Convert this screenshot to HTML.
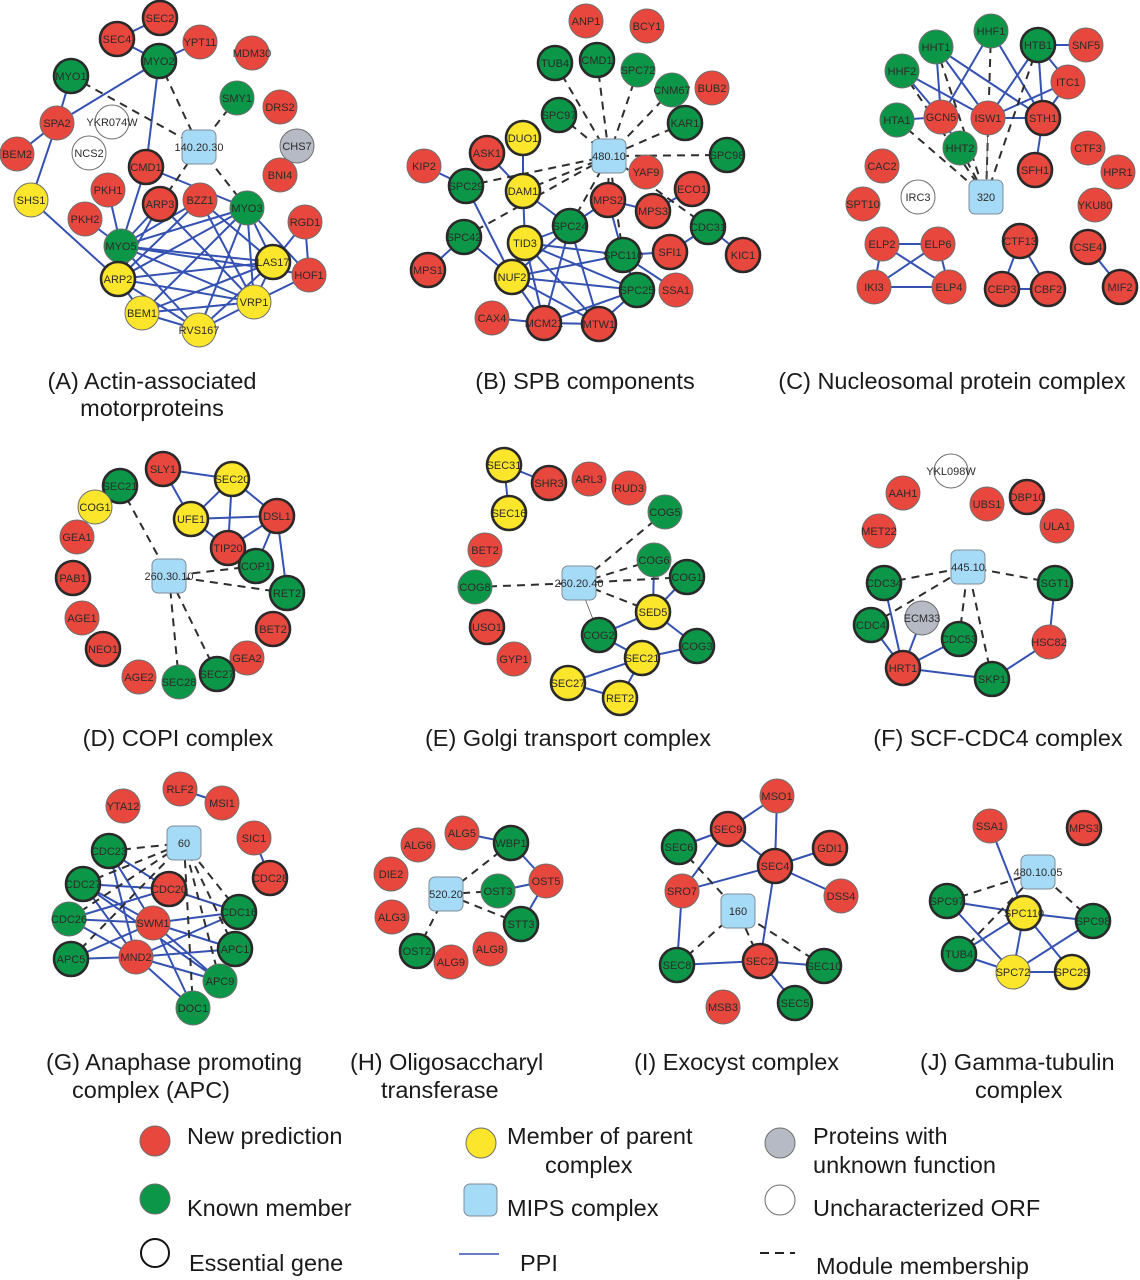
<!DOCTYPE html>
<html>
<head>
<meta charset="utf-8">
<style>
html,body{margin:0;padding:0;background:#fff;}
svg{display:block;}
.e{stroke:#3552b2;stroke-width:2;fill:none;}
.d{stroke:#2e2e2e;stroke-width:2;fill:none;stroke-dasharray:8 6;}
.th{stroke:#555;stroke-width:0.8;fill:none;}
circle{stroke:#6e6e6e;stroke-width:1;}
.r{fill:#e8473d;}
.g{fill:#0c9648;}
.y{fill:#fce62b;}
.s{fill:#b5bac4;}
.w{fill:#fff;}
.k{stroke:#2a2a2a;stroke-width:2.6;}
.b{fill:#a6dbf7;stroke:#7d8c98;stroke-width:1;}
.n text{font-family:"Liberation Sans",Arial,sans-serif;font-size:11px;text-anchor:middle;fill:#2b2b2b;}
.ti{font-family:"Liberation Sans",Arial,sans-serif;font-size:23.5px;fill:#1a1a1a;}
.lg{font-family:"Liberation Sans",Arial,sans-serif;font-size:23.5px;fill:#1a1a1a;}
</style>
</head>
<body>
<svg width="1140" height="1280" viewBox="0 0 1140 1280" xmlns="http://www.w3.org/2000/svg">
<!-- Panel A -->
<path class="e" d="M160 18L117 39M117 39L159 61M159 61L200 42M159 61L57 123M159 61L146 167M71 76L57 123M57 123L17 154M57 123L31 200M31 200L118 279M146 167L121 246M146 167L247 208M108 190L121 246M85 219L121 246M160 204L121 246M200 200L121 246M247 208L121 246M121 246L273 262M121 246L254 302M121 246L199 330M121 246L118 279M160 204L118 279M160 204L254 302M200 200L273 262M200 200L254 302M200 200L118 279M247 208L118 279M247 208L273 262M247 208L254 302M247 208L199 330M247 208L309 275M247 208L142 313M305 222L273 262M305 222L309 275M118 279L273 262M118 279L254 302M118 279L142 313M118 279L199 330M142 313L199 330M142 313L273 262M142 313L254 302M199 330L254 302M199 330L273 262M254 302L273 262M254 302L309 275M121 246L309 275"/>
<path class="d" d="M71 76L199 147M159 61L199 147M237 98L199 147M247 208L199 147M160 204L199 147"/>
<!-- Panel B -->
<path class="e" d="M424 166L466 186M487 153L523 191M523 138L523 191M523 191L525 243M523 191L570 226M466 186L512 277M464 237L428 270M464 237L512 277M525 243L512 277M525 243L570 226M525 243L623 255M525 243L637 290M525 243L599 324M525 243L544 323M512 277L570 226M512 277L623 255M512 277L637 290M512 277L544 323M512 277L599 324M570 226L544 323M570 226L599 324M570 226L608 200M608 200L623 255M608 200L653 211M653 211L692 189M623 255L670 252M623 255L637 290M623 255L676 290M670 252L708 227M708 227L743 255M492 318L544 323M544 323L599 324M544 323L637 290M599 324L637 290"/>
<path class="d" d="M555 63L609 156M597 60L609 156M638 70L609 156M672 90L609 156M559 115L609 156M685 123L609 156M727 155L609 156M466 186L609 156M523 191L609 156M464 237L609 156M570 226L609 156M608 200L609 156M623 255L609 156M708 227L609 156"/>
<!-- Panel C -->
<path class="e" d="M1038 45L1086 45M1038 45L1068 82M1038 45L988 118M1038 45L1043 118M991 31L941 117M991 31L1043 118M936 47L941 117M936 47L988 118M936 47L1043 118M902 71L941 117M902 71L988 118M897 120L941 117M1068 82L988 118M1068 82L1043 118M988 118L1043 118M1043 118L1035 170M941 117L960 148M882 244L938 244M882 244L874 287M882 244L949 287M938 244L874 287M938 244L949 287M874 287L949 287M1020 241L1002 289M1020 241L1048 289M1002 289L1048 289M1088 247L1120 287"/>
<path class="d" d="M897 120L986 197M902 71L986 197M936 47L986 197M991 31L986 197M1038 45L986 197M960 148L986 197"/>
<path class="th" d="M988 118L986 197"/>
<!-- Panel D -->
<path class="e" d="M163 469L232 479M163 469L191 519M232 479L191 519M232 479L228 548M232 479L277 516M191 519L277 516M191 519L228 548M228 548L277 516M277 516L256 566M277 516L287 593"/>
<path class="d" d="M120 486L169 576M256 566L169 576M287 593L169 576M179 682L169 576M217 674L169 576"/>
<!-- Panel E -->
<path class="e" d="M504 465L549 483M504 465L509 513M654 560L653 612M687 577L653 612M653 612L599 635M653 612L697 646M599 635L642 658M642 658L697 646M642 658L568 683M642 658L620 698M568 683L620 698"/>
<path class="d" d="M665 512L579 583M654 560L579 583M687 577L579 583M475 587L579 583M653 612L579 583"/>
<path class="th" d="M579 583L599 635"/>
<!-- Panel F -->
<path class="e" d="M884 583L903 668M871 625L903 668M922 618L903 668M959 639L903 668M903 668L992 679M992 679L1049 642M1049 642L1055 583"/>
<path class="d" d="M884 583L968 567M871 625L968 567M959 639L968 567M992 679L968 567M1055 583L968 567"/>
<!-- Panel G -->
<path class="e" d="M180 789L222 803M254 838L270 878M109 851L169 889M109 851L153 923M109 851L136 957M83 884L169 889M83 884L153 923M83 884L136 957M69 919L169 889M69 919L153 923M69 919L136 957M71 959L153 923M71 959L136 957M169 889L239 912M153 923L239 912M136 957L239 912M153 923L235 949M153 923L220 981M153 923L193 1008M136 957L235 949M136 957L220 981M136 957L193 1008M83 884L220 981"/>
<path class="d" d="M109 851L184 843M83 884L184 843M69 919L184 843M71 959L184 843M239 912L184 843M235 949L184 843M220 981L184 843M193 1008L184 843"/>
<!-- Panel H -->
<path class="e" d="M462 833L511 843M511 843L546 881M498 891L546 881M521 924L546 881"/>
<path class="d" d="M511 843L446 894M498 891L446 894M521 924L446 894M417 951L446 894"/>
<!-- Panel I -->
<path class="e" d="M777 796L728 829M777 796L775 866M728 829L679 847M728 829L682 891M728 829L775 866M682 891L775 866M775 866L830 848M775 866L841 896M775 866L760 961M682 891L677 965M677 965L760 961M760 961L824 966M760 961L795 1003"/>
<path class="d" d="M679 847L738 911M677 965L738 911M760 961L738 911M824 966L738 911"/>
<!-- Panel J -->
<path class="e" d="M990 826L1024 913M947 901L1024 913M947 901L1013 972M1024 913L1093 921M1024 913L959 954M1024 913L1013 972M1024 913L1072 972M959 954L1013 972M1013 972L1072 972M1013 972L1093 921"/>
<path class="d" d="M947 901L1038 872M959 954L1038 872M1093 921L1038 872"/>

<!-- BOXES -->
<rect class="b" x="182" y="130" width="34" height="34" rx="6"/>
<rect class="b" x="592" y="139" width="34" height="34" rx="6"/>
<rect class="b" x="969" y="180" width="34" height="34" rx="6"/>
<rect class="b" x="152" y="559" width="34" height="34" rx="6"/>
<rect class="b" x="562" y="566" width="34" height="34" rx="6"/>
<rect class="b" x="951" y="550" width="34" height="34" rx="6"/>
<rect class="b" x="167" y="826" width="34" height="34" rx="6"/>
<rect class="b" x="429" y="877" width="34" height="34" rx="6"/>
<rect class="b" x="721" y="894" width="34" height="34" rx="6"/>
<rect class="b" x="1021" y="855" width="34" height="34" rx="6"/>

<!-- NODES A -->
<circle r="17" cx="160" cy="18" class="r k"/>
<circle r="17" cx="117" cy="39" class="r k"/>
<circle r="17" cx="200" cy="42" class="r"/>
<circle r="17" cx="252" cy="53" class="r"/>
<circle r="17" cx="159" cy="61" class="g k"/>
<circle r="17" cx="71" cy="76" class="g k"/>
<circle r="17" cx="237" cy="98" class="g"/>
<circle r="17" cx="280" cy="107" class="r"/>
<circle r="17" cx="112" cy="122" class="w"/>
<circle r="17" cx="57" cy="123" class="r"/>
<circle r="17" cx="297" cy="146" class="s"/>
<circle r="17" cx="89" cy="153" class="w"/>
<circle r="17" cx="17" cy="154" class="r"/>
<circle r="17" cx="146" cy="167" class="r k"/>
<circle r="17" cx="280" cy="175" class="r"/>
<circle r="17" cx="31" cy="200" class="y"/>
<circle r="17" cx="108" cy="190" class="r"/>
<circle r="17" cx="160" cy="204" class="r k"/>
<circle r="17" cx="200" cy="200" class="r"/>
<circle r="17" cx="247" cy="208" class="g"/>
<circle r="17" cx="305" cy="222" class="r"/>
<circle r="17" cx="85" cy="219" class="r"/>
<circle r="17" cx="121" cy="246" class="g"/>
<circle r="17" cx="273" cy="262" class="y k"/>
<circle r="17" cx="309" cy="275" class="r"/>
<circle r="17" cx="118" cy="279" class="y k"/>
<circle r="17" cx="254" cy="302" class="y"/>
<circle r="17" cx="142" cy="313" class="y"/>
<circle r="17" cx="199" cy="330" class="y"/>
<!-- B -->
<circle r="17" cx="586" cy="21" class="r"/>
<circle r="17" cx="647" cy="26" class="r"/>
<circle r="17" cx="555" cy="63" class="g k"/>
<circle r="17" cx="597" cy="60" class="g k"/>
<circle r="17" cx="638" cy="70" class="g"/>
<circle r="17" cx="672" cy="90" class="g"/>
<circle r="17" cx="712" cy="88" class="r"/>
<circle r="17" cx="559" cy="115" class="g k"/>
<circle r="17" cx="685" cy="123" class="g k"/>
<circle r="17" cx="523" cy="138" class="y k"/>
<circle r="17" cx="487" cy="153" class="r k"/>
<circle r="17" cx="727" cy="155" class="g k"/>
<circle r="17" cx="424" cy="166" class="r"/>
<circle r="17" cx="646" cy="172" class="r"/>
<circle r="17" cx="466" cy="186" class="g k"/>
<circle r="17" cx="523" cy="191" class="y k"/>
<circle r="17" cx="692" cy="189" class="r k"/>
<circle r="17" cx="608" cy="200" class="r k"/>
<circle r="17" cx="653" cy="211" class="r k"/>
<circle r="17" cx="570" cy="226" class="g k"/>
<circle r="17" cx="708" cy="227" class="g k"/>
<circle r="17" cx="464" cy="237" class="g k"/>
<circle r="17" cx="525" cy="243" class="y k"/>
<circle r="17" cx="623" cy="255" class="g k"/>
<circle r="17" cx="670" cy="252" class="r k"/>
<circle r="17" cx="743" cy="255" class="r k"/>
<circle r="17" cx="428" cy="270" class="r k"/>
<circle r="17" cx="512" cy="277" class="y k"/>
<circle r="17" cx="637" cy="290" class="g k"/>
<circle r="17" cx="676" cy="290" class="r"/>
<circle r="17" cx="492" cy="318" class="r"/>
<circle r="17" cx="544" cy="323" class="r k"/>
<circle r="17" cx="599" cy="324" class="r k"/>
<!-- C -->
<circle r="17" cx="991" cy="31" class="g"/>
<circle r="17" cx="1038" cy="45" class="g k"/>
<circle r="17" cx="1086" cy="45" class="r"/>
<circle r="17" cx="936" cy="47" class="g"/>
<circle r="17" cx="902" cy="71" class="g"/>
<circle r="17" cx="1068" cy="82" class="r"/>
<circle r="17" cx="897" cy="120" class="g"/>
<circle r="17" cx="941" cy="117" class="r"/>
<circle r="17" cx="988" cy="118" class="r"/>
<circle r="17" cx="1043" cy="118" class="r k"/>
<circle r="17" cx="960" cy="148" class="g"/>
<circle r="17" cx="1088" cy="148" class="r"/>
<circle r="17" cx="882" cy="166" class="r"/>
<circle r="17" cx="1035" cy="170" class="r k"/>
<circle r="17" cx="1118" cy="172" class="r"/>
<circle r="17" cx="918" cy="197" class="w"/>
<circle r="17" cx="863" cy="204" class="r"/>
<circle r="17" cx="1095" cy="205" class="r"/>
<circle r="17" cx="882" cy="244" class="r"/>
<circle r="17" cx="938" cy="244" class="r"/>
<circle r="17" cx="1020" cy="241" class="r k"/>
<circle r="17" cx="1088" cy="247" class="r k"/>
<circle r="17" cx="874" cy="287" class="r"/>
<circle r="17" cx="949" cy="287" class="r"/>
<circle r="17" cx="1002" cy="289" class="r k"/>
<circle r="17" cx="1048" cy="289" class="r k"/>
<circle r="17" cx="1120" cy="287" class="r k"/>
<!-- D -->
<circle r="17" cx="163" cy="469" class="r k"/>
<circle r="17" cx="232" cy="479" class="y k"/>
<circle r="17" cx="120" cy="486" class="g k"/>
<circle r="17" cx="95" cy="507" class="y"/>
<circle r="17" cx="191" cy="519" class="y k"/>
<circle r="17" cx="277" cy="516" class="r k"/>
<circle r="17" cx="77" cy="537" class="r"/>
<circle r="17" cx="228" cy="548" class="r k"/>
<circle r="17" cx="256" cy="566" class="g k"/>
<circle r="17" cx="73" cy="578" class="r k"/>
<circle r="17" cx="287" cy="593" class="g k"/>
<circle r="17" cx="82" cy="618" class="r"/>
<circle r="17" cx="273" cy="629" class="r k"/>
<circle r="17" cx="103" cy="649" class="r k"/>
<circle r="17" cx="247" cy="658" class="r"/>
<circle r="17" cx="139" cy="677" class="r"/>
<circle r="17" cx="179" cy="682" class="g"/>
<circle r="17" cx="217" cy="674" class="g k"/>
<!-- E -->
<circle r="17" cx="504" cy="465" class="y k"/>
<circle r="17" cx="549" cy="483" class="r k"/>
<circle r="17" cx="589" cy="479" class="r"/>
<circle r="17" cx="629" cy="488" class="r"/>
<circle r="17" cx="509" cy="513" class="y k"/>
<circle r="17" cx="665" cy="512" class="g"/>
<circle r="17" cx="485" cy="550" class="r"/>
<circle r="17" cx="654" cy="560" class="g"/>
<circle r="17" cx="687" cy="577" class="g k"/>
<circle r="17" cx="475" cy="587" class="g"/>
<circle r="17" cx="653" cy="612" class="y k"/>
<circle r="17" cx="487" cy="627" class="r k"/>
<circle r="17" cx="599" cy="635" class="g k"/>
<circle r="17" cx="697" cy="646" class="g k"/>
<circle r="17" cx="642" cy="658" class="y k"/>
<circle r="17" cx="514" cy="659" class="r"/>
<circle r="17" cx="568" cy="683" class="y k"/>
<circle r="17" cx="620" cy="698" class="y k"/>
<!-- F -->
<circle r="17" cx="951" cy="471" class="w"/>
<circle r="17" cx="903" cy="493" class="r"/>
<circle r="17" cx="987" cy="504" class="r"/>
<circle r="17" cx="1027" cy="497" class="r k"/>
<circle r="17" cx="879" cy="531" class="r"/>
<circle r="17" cx="1057" cy="526" class="r"/>
<circle r="17" cx="884" cy="583" class="g k"/>
<circle r="17" cx="1055" cy="583" class="g k"/>
<circle r="17" cx="922" cy="618" class="s"/>
<circle r="17" cx="871" cy="625" class="g k"/>
<circle r="17" cx="959" cy="639" class="g k"/>
<circle r="17" cx="1049" cy="642" class="r"/>
<circle r="17" cx="903" cy="668" class="r k"/>
<circle r="17" cx="992" cy="679" class="g k"/>
<!-- G -->
<circle r="17" cx="180" cy="789" class="r"/>
<circle r="17" cx="222" cy="803" class="r"/>
<circle r="17" cx="123" cy="806" class="r"/>
<circle r="17" cx="254" cy="838" class="r"/>
<circle r="17" cx="109" cy="851" class="g k"/>
<circle r="17" cx="83" cy="884" class="g k"/>
<circle r="17" cx="270" cy="878" class="r k"/>
<circle r="17" cx="169" cy="889" class="r k"/>
<circle r="17" cx="69" cy="919" class="g"/>
<circle r="17" cx="153" cy="923" class="r"/>
<circle r="17" cx="239" cy="912" class="g k"/>
<circle r="17" cx="71" cy="959" class="g k"/>
<circle r="17" cx="136" cy="957" class="r"/>
<circle r="17" cx="235" cy="949" class="g k"/>
<circle r="17" cx="220" cy="981" class="g"/>
<circle r="17" cx="193" cy="1008" class="g"/>
<!-- H -->
<circle r="17" cx="462" cy="833" class="r"/>
<circle r="17" cx="511" cy="843" class="g k"/>
<circle r="17" cx="418" cy="845" class="r"/>
<circle r="17" cx="391" cy="874" class="r"/>
<circle r="17" cx="546" cy="881" class="r"/>
<circle r="17" cx="498" cy="891" class="g"/>
<circle r="17" cx="392" cy="917" class="r"/>
<circle r="17" cx="521" cy="924" class="g k"/>
<circle r="17" cx="417" cy="951" class="g k"/>
<circle r="17" cx="490" cy="949" class="r"/>
<circle r="17" cx="451" cy="962" class="r"/>
<!-- I -->
<circle r="17" cx="777" cy="796" class="r"/>
<circle r="17" cx="728" cy="829" class="r k"/>
<circle r="17" cx="679" cy="847" class="g k"/>
<circle r="17" cx="830" cy="848" class="r k"/>
<circle r="17" cx="775" cy="866" class="r k"/>
<circle r="17" cx="682" cy="891" class="r"/>
<circle r="17" cx="841" cy="896" class="r"/>
<circle r="17" cx="677" cy="965" class="g k"/>
<circle r="17" cx="760" cy="961" class="r k"/>
<circle r="17" cx="824" cy="966" class="g k"/>
<circle r="17" cx="723" cy="1007" class="r"/>
<circle r="17" cx="795" cy="1003" class="g k"/>
<!-- J -->
<circle r="17" cx="990" cy="826" class="r"/>
<circle r="17" cx="1084" cy="828" class="r k"/>
<circle r="17" cx="947" cy="901" class="g k"/>
<circle r="17" cx="1024" cy="913" class="y k"/>
<circle r="17" cx="1093" cy="921" class="g k"/>
<circle r="17" cx="959" cy="954" class="g k"/>
<circle r="17" cx="1013" cy="972" class="y"/>
<circle r="17" cx="1072" cy="972" class="y k"/>

<!-- LABELS -->
<g class="n">
<text x="199" y="151">140.20.30</text>
<text x="160" y="22">SEC2</text>
<text x="117" y="43">SEC4</text>
<text x="200" y="46">YPT11</text>
<text x="252" y="57">MDM30</text>
<text x="159" y="65">MYO2</text>
<text x="71" y="80">MYO1</text>
<text x="237" y="102">SMY1</text>
<text x="280" y="111">DRS2</text>
<text x="112" y="126">YKR074W</text>
<text x="57" y="127">SPA2</text>
<text x="297" y="150">CHS7</text>
<text x="89" y="157">NCS2</text>
<text x="17" y="158">BEM2</text>
<text x="146" y="171">CMD1</text>
<text x="280" y="179">BNI4</text>
<text x="31" y="204">SHS1</text>
<text x="108" y="194">PKH1</text>
<text x="160" y="208">ARP3</text>
<text x="200" y="204">BZZ1</text>
<text x="247" y="212">MYO3</text>
<text x="305" y="226">RGD1</text>
<text x="85" y="223">PKH2</text>
<text x="121" y="250">MYO5</text>
<text x="273" y="266">LAS17</text>
<text x="309" y="279">HOF1</text>
<text x="118" y="283">ARP2</text>
<text x="254" y="306">VRP1</text>
<text x="142" y="317">BEM1</text>
<text x="199" y="334">RVS167</text>
<text x="609" y="160">480.10</text>
<text x="586" y="25">ANP1</text>
<text x="647" y="30">BCY1</text>
<text x="555" y="67">TUB4</text>
<text x="597" y="64">CMD1</text>
<text x="638" y="74">SPC72</text>
<text x="672" y="94">CNM67</text>
<text x="712" y="92">BUB2</text>
<text x="559" y="119">SPC97</text>
<text x="685" y="127">KAR1</text>
<text x="523" y="142">DUO1</text>
<text x="487" y="157">ASK1</text>
<text x="727" y="159">SPC98</text>
<text x="424" y="170">KIP2</text>
<text x="646" y="176">YAF9</text>
<text x="466" y="190">SPC29</text>
<text x="523" y="195">DAM1</text>
<text x="692" y="193">ECO1</text>
<text x="608" y="204">MPS2</text>
<text x="653" y="215">MPS3</text>
<text x="570" y="230">SPC24</text>
<text x="708" y="231">CDC31</text>
<text x="464" y="241">SPC42</text>
<text x="525" y="247">TID3</text>
<text x="623" y="259">SPC110</text>
<text x="670" y="256">SFI1</text>
<text x="743" y="259">KIC1</text>
<text x="428" y="274">MPS1</text>
<text x="512" y="281">NUF2</text>
<text x="637" y="294">SPC25</text>
<text x="676" y="294">SSA1</text>
<text x="492" y="322">CAX4</text>
<text x="544" y="327">MCM21</text>
<text x="599" y="328">MTW1</text>
<text x="986" y="201">320</text>
<text x="991" y="35">HHF1</text>
<text x="1038" y="49">HTB1</text>
<text x="1086" y="49">SNF5</text>
<text x="936" y="51">HHT1</text>
<text x="902" y="75">HHF2</text>
<text x="1068" y="86">ITC1</text>
<text x="897" y="124">HTA1</text>
<text x="941" y="121">GCN5</text>
<text x="988" y="122">ISW1</text>
<text x="1043" y="122">STH1</text>
<text x="960" y="152">HHT2</text>
<text x="1088" y="152">CTF3</text>
<text x="882" y="170">CAC2</text>
<text x="1035" y="174">SFH1</text>
<text x="1118" y="176">HPR1</text>
<text x="918" y="201">IRC3</text>
<text x="863" y="208">SPT10</text>
<text x="1095" y="209">YKU80</text>
<text x="882" y="248">ELP2</text>
<text x="938" y="248">ELP6</text>
<text x="1020" y="245">CTF13</text>
<text x="1088" y="251">CSE4</text>
<text x="874" y="291">IKI3</text>
<text x="949" y="291">ELP4</text>
<text x="1002" y="293">CEP3</text>
<text x="1048" y="293">CBF2</text>
<text x="1120" y="291">MIF2</text>
<text x="169" y="580">260.30.10</text>
<text x="163" y="473">SLY1</text>
<text x="232" y="483">SEC20</text>
<text x="120" y="490">SEC21</text>
<text x="95" y="511">COG1</text>
<text x="191" y="523">UFE1</text>
<text x="277" y="520">DSL1</text>
<text x="77" y="541">GEA1</text>
<text x="228" y="552">TIP20</text>
<text x="256" y="570">COP1</text>
<text x="73" y="582">PAB1</text>
<text x="287" y="597">RET2</text>
<text x="82" y="622">AGE1</text>
<text x="273" y="633">BET2</text>
<text x="103" y="653">NEO1</text>
<text x="247" y="662">GEA2</text>
<text x="139" y="681">AGE2</text>
<text x="179" y="686">SEC28</text>
<text x="217" y="678">SEC27</text>
<text x="579" y="587">260.20.40</text>
<text x="504" y="469">SEC31</text>
<text x="549" y="487">SHR3</text>
<text x="589" y="483">ARL3</text>
<text x="629" y="492">RUD3</text>
<text x="509" y="517">SEC16</text>
<text x="665" y="516">COG5</text>
<text x="485" y="554">BET2</text>
<text x="654" y="564">COG6</text>
<text x="687" y="581">COG1</text>
<text x="475" y="591">COG8</text>
<text x="653" y="616">SED5</text>
<text x="487" y="631">USO1</text>
<text x="599" y="639">COG2</text>
<text x="697" y="650">COG3</text>
<text x="642" y="662">SEC21</text>
<text x="514" y="663">GYP1</text>
<text x="568" y="687">SEC27</text>
<text x="620" y="702">RET2</text>
<text x="968" y="571">445.10</text>
<text x="951" y="475">YKL098W</text>
<text x="903" y="497">AAH1</text>
<text x="987" y="508">UBS1</text>
<text x="1027" y="501">DBP10</text>
<text x="879" y="535">MET22</text>
<text x="1057" y="530">ULA1</text>
<text x="884" y="587">CDC34</text>
<text x="1055" y="587">SGT1</text>
<text x="922" y="622">ECM33</text>
<text x="871" y="629">CDC4</text>
<text x="959" y="643">CDC53</text>
<text x="1049" y="646">HSC82</text>
<text x="903" y="672">HRT1</text>
<text x="992" y="683">SKP1</text>
<text x="184" y="847">60</text>
<text x="180" y="793">RLF2</text>
<text x="222" y="807">MSI1</text>
<text x="123" y="810">YTA12</text>
<text x="254" y="842">SIC1</text>
<text x="109" y="855">CDC23</text>
<text x="83" y="888">CDC27</text>
<text x="270" y="882">CDC28</text>
<text x="169" y="893">CDC20</text>
<text x="69" y="923">CDC26</text>
<text x="153" y="927">SWM1</text>
<text x="239" y="916">CDC16</text>
<text x="71" y="963">APC5</text>
<text x="136" y="961">MND2</text>
<text x="235" y="953">APC1</text>
<text x="220" y="985">APC9</text>
<text x="193" y="1012">DOC1</text>
<text x="446" y="898">520.20</text>
<text x="462" y="837">ALG5</text>
<text x="511" y="847">WBP1</text>
<text x="418" y="849">ALG6</text>
<text x="391" y="878">DIE2</text>
<text x="546" y="885">OST5</text>
<text x="498" y="895">OST3</text>
<text x="392" y="921">ALG3</text>
<text x="521" y="928">STT3</text>
<text x="417" y="955">OST2</text>
<text x="490" y="953">ALG8</text>
<text x="451" y="966">ALG9</text>
<text x="738" y="915">160</text>
<text x="777" y="800">MSO1</text>
<text x="728" y="833">SEC9</text>
<text x="679" y="851">SEC6</text>
<text x="830" y="852">GDI1</text>
<text x="775" y="870">SEC4</text>
<text x="682" y="895">SRO7</text>
<text x="841" y="900">DSS4</text>
<text x="677" y="969">SEC8</text>
<text x="760" y="965">SEC2</text>
<text x="824" y="970">SEC10</text>
<text x="723" y="1011">MSB3</text>
<text x="795" y="1007">SEC5</text>
<text x="1038" y="876">480.10.05</text>
<text x="990" y="830">SSA1</text>
<text x="1084" y="832">MPS3</text>
<text x="947" y="905">SPC97</text>
<text x="1024" y="917">SPC110</text>
<text x="1093" y="925">SPC98</text>
<text x="959" y="958">TUB4</text>
<text x="1013" y="976">SPC72</text>
<text x="1072" y="976">SPC29</text>
</g>

<!-- TITLES -->
<text class="ti" x="152" y="389" text-anchor="middle">(A) Actin-associated</text>
<text class="ti" x="152" y="416" text-anchor="middle">motorproteins</text>
<text class="ti" x="585" y="389" text-anchor="middle">(B) SPB components</text>
<text class="ti" x="952" y="389" text-anchor="middle">(C) Nucleosomal protein complex</text>
<text class="ti" x="178" y="746" text-anchor="middle">(D) COPI complex</text>
<text class="ti" x="568" y="746" text-anchor="middle">(E) Golgi transport complex</text>
<text class="ti" x="998" y="746" text-anchor="middle">(F) SCF-CDC4 complex</text>
<text class="ti" x="46" y="1070">(G) Anaphase promoting</text>
<text class="ti" x="72" y="1098">complex (APC)</text>
<text class="ti" x="350" y="1070">(H) Oligosaccharyl</text>
<text class="ti" x="381" y="1098">transferase</text>
<text class="ti" x="634" y="1070">(I) Exocyst complex</text>
<text class="ti" x="920" y="1070">(J) Gamma-tubulin</text>
<text class="ti" x="975" y="1098">complex</text>

<!-- LEGEND -->
<circle cx="155" cy="1141" r="15" class="r"/>
<text class="lg" x="187" y="1144">New prediction</text>
<circle cx="155" cy="1199" r="15" class="g"/>
<text class="lg" x="187" y="1216">Known member</text>
<circle cx="155" cy="1253" r="14" class="w" style="stroke:#111;stroke-width:2"/>
<text class="lg" x="189" y="1271">Essential gene</text>

<circle cx="481" cy="1143" r="15" class="y"/>
<text class="lg" x="507" y="1144">Member of parent</text>
<text class="lg" x="545" y="1173">complex</text>
<rect class="b" x="464" y="1184" width="33" height="32" rx="6"/>
<text class="lg" x="507" y="1216">MIPS complex</text>
<line x1="459" y1="1254" x2="499" y2="1254" stroke="#3552b2" stroke-width="1.5"/>
<text class="lg" x="520" y="1271">PPI</text>

<circle cx="780" cy="1143" r="15" class="s"/>
<text class="lg" x="813" y="1144">Proteins with</text>
<text class="lg" x="813" y="1173">unknown function</text>
<circle cx="780" cy="1200" r="15" class="w"/>
<text class="lg" x="813" y="1216">Uncharacterized ORF</text>
<path d="M760 1253h9M775 1253h9M790 1253h5" stroke="#222" stroke-width="2"/>
<text class="lg" x="816" y="1274">Module membership</text>
</svg>
</body>
</html>
